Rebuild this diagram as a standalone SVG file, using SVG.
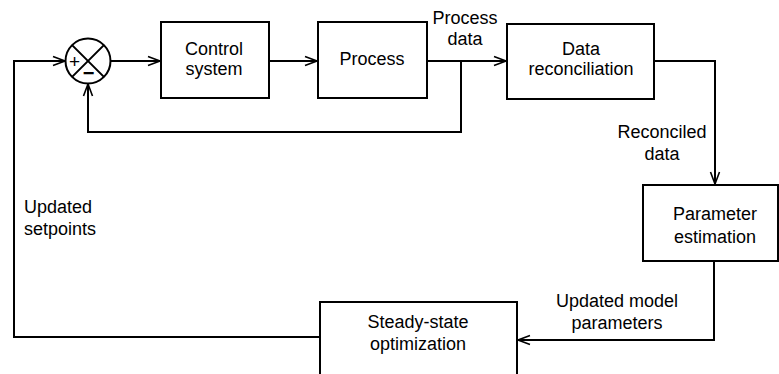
<svg xmlns="http://www.w3.org/2000/svg" width="779" height="374" viewBox="0 0 779 374">
<defs>
<marker id="arr" markerUnits="userSpaceOnUse" markerWidth="14" markerHeight="12" viewBox="0 0 14 12" refX="13" refY="6" orient="auto">
<path d="M1,1.5 L13,6 L1,10.5" fill="none" stroke="#000" stroke-width="1.6"/>
</marker>
</defs>
<style>
.box{fill:#fff;stroke:#000;stroke-width:2}
.ln{fill:none;stroke:#000;stroke-width:2}
text{font-family:"Liberation Sans",Arial,sans-serif;font-size:18px;fill:#000;text-anchor:middle}
.l{text-anchor:start}
</style>
<rect width="779" height="374" fill="#fff"/>
<g id="connectors">
<path class="ln" d="M111,61 H160" marker-end="url(#arr)"/>
<path class="ln" d="M269,61 H317" marker-end="url(#arr)"/>
<path class="ln" d="M427,61 H506" marker-end="url(#arr)"/>
<path class="ln" d="M461,61 V132 H88 V84" marker-end="url(#arr)"/>
<path class="ln" d="M654,61 H715 V184" marker-end="url(#arr)"/>
<path class="ln" d="M714,262 V340 H518" marker-end="url(#arr)"/>
<path class="ln" d="M320,337 H14 V61 H65" marker-end="url(#arr)"/>
</g>
<g id="sum">
<circle cx="88" cy="61" r="22.5" fill="#fff" stroke="#000" stroke-width="2"/>
<path class="ln" d="M72.1,45.1 L103.9,76.9 M103.9,45.1 L72.1,76.9"/>
<text x="74.5" y="67.5" style="font-size:19px">+</text>
<text x="88.5" y="80" style="font-size:20px;font-weight:bold">−</text>
</g>
<g id="control">
<rect class="box" x="161" y="22" width="108" height="76"/>
<text x="214" y="55">Control</text>
<text x="214" y="75">system</text>
</g>
<g id="process">
<rect class="box" x="318" y="22" width="109" height="76"/>
<text x="372" y="65">Process</text>
</g>
<g id="reconciliation">
<rect class="box" x="507" y="24" width="147" height="75"/>
<text x="581" y="55">Data</text>
<text x="581" y="75">reconciliation</text>
</g>
<g id="estimation">
<rect class="box" x="643" y="185" width="135" height="76"/>
<text x="715" y="220">Parameter</text>
<text x="715" y="243">estimation</text>
</g>
<g id="optimization">
<rect class="box" x="320" y="302" width="197" height="80"/>
<text x="418" y="328">Steady-state</text>
<text x="418" y="350">optimization</text>
</g>
<g id="labels">
<text x="465" y="24">Process</text>
<text x="465" y="45">data</text>
<text x="662" y="138">Reconciled</text>
<text x="662" y="160">data</text>
<text x="617" y="307">Updated model</text>
<text x="617" y="329">parameters</text>
<text class="l" x="24" y="213">Updated</text>
<text class="l" x="24" y="235">setpoints</text>
</g>
</svg>
